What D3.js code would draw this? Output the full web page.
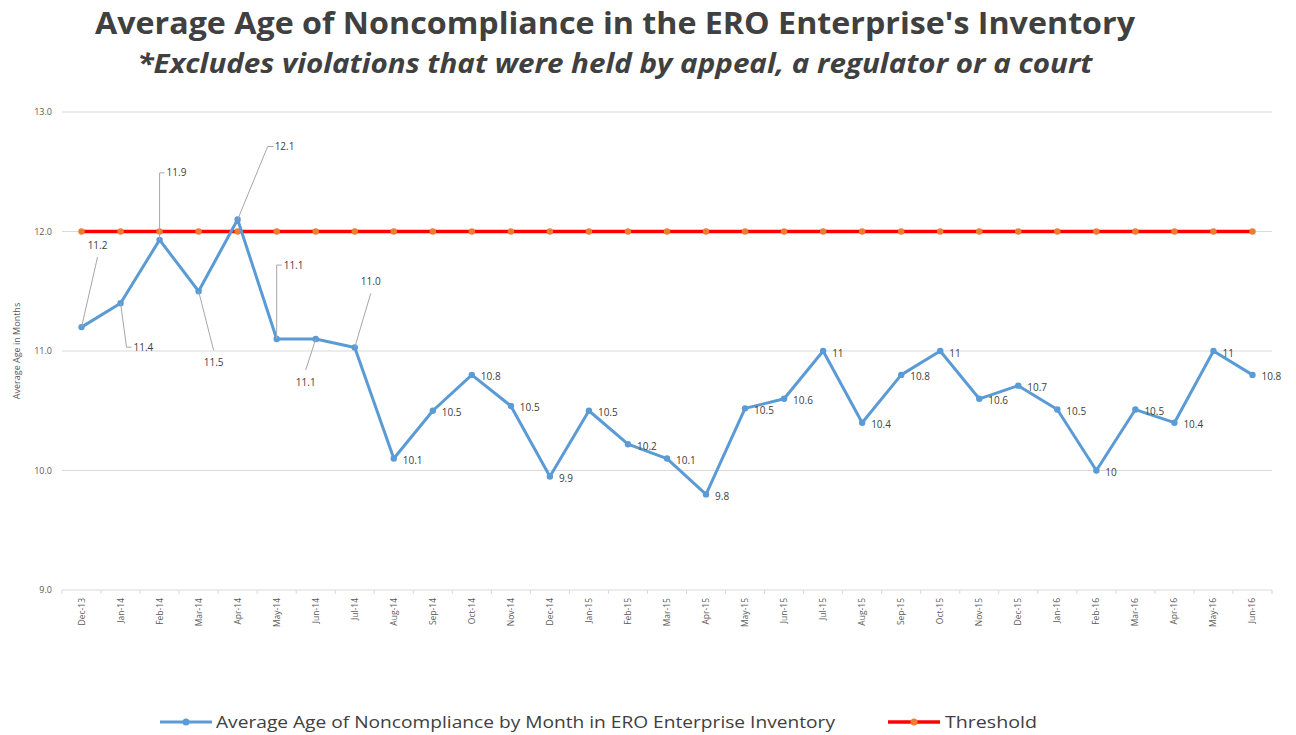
<!DOCTYPE html>
<meta charset="utf-8">
<title>Average Age of Noncompliance</title>
<style>
body { margin:0; background:#fff; }
svg text { font-family: "Open Sans", "DejaVu Sans", sans-serif; fill:#404040; }
.grid line { stroke:#d9d9d9; stroke-width:1px; }
.tick-lbl { font-size:9px; fill:#595959; }
.val { font-size:10px; fill:#404040; }
</style>
<svg width="1296" height="735"></svg>
<script src="https://d3js.org/d3.v7.min.js"></script>
<script>

var months = ["Dec-13","Jan-14","Feb-14","Mar-14","Apr-14","May-14","Jun-14","Jul-14","Aug-14","Sep-14","Oct-14","Nov-14",
              "Dec-14","Jan-15","Feb-15","Mar-15","Apr-15","May-15","Jun-15","Jul-15","Aug-15","Sep-15","Oct-15","Nov-15",
              "Dec-15","Jan-16","Feb-16","Mar-16","Apr-16","May-16","Jun-16"];
var avgAge = [11.2,11.4,11.93,11.5,12.1,11.1,11.1,11.03,10.1,10.5,10.8,10.54,
              9.95,10.5,10.22,10.1,9.8,10.52,10.6,11.0,10.4,10.8,11.0,10.6,
              10.71,10.51,10.0,10.51,10.4,11.0,10.8];
var avgLabels = ["11.2","11.4","11.9","11.5","12.1","11.1","11.1","11.0","10.1","10.5","10.8","10.5",
                 "9.9","10.5","10.2","10.1","9.8","10.5","10.6","11","10.4","10.8","11","10.6",
                 "10.7","10.5","10","10.5","10.4","11","10.8"];
var threshold = months.map(function(){ return 12; });
var yTicks = [9,10,11,12,13];

// callout offsets for the first labels (leader lines), in px from the point
var callouts = [
  {dx:16, dy:-82, kind:"diag"},
  {dx:6,  dy:44,  kind:"elbow"},
  {dx:0,  dy:-67, kind:"elbow"},
  {dx:15, dy:71,  kind:"diag"},
  {dx:30, dy:-73, kind:"diagElbow"},
  {dx:0,  dy:-74, kind:"elbow"},
  {dx:-10, dy:43, kind:"diag"},
  {dx:16, dy:-66, kind:"diag"}
];

var svg = d3.select("svg");
var x = d3.scalePoint().domain(months).range([62, 1272]).padding(0.5);
var y = d3.scaleLinear().domain([9, 13]).range([590, 112]);

// title
svg.append("text").attr("x", 615).attr("y", 34)
  .attr("text-anchor","middle").style("font-size","30px").style("font-weight","bold")
  .attr("textLength", 1040).attr("lengthAdjust","spacingAndGlyphs")
  .text("Average Age of Noncompliance in the ERO Enterprise's Inventory");
svg.append("text").attr("x", 615).attr("y", 73)
  .attr("text-anchor","middle").style("font-size","26px").style("font-weight","bold").style("font-style","italic")
  .attr("textLength", 955).attr("lengthAdjust","spacingAndGlyphs")
  .text("*Excludes violations that were held by appeal, a regulator or a court");

// grid
svg.append("g").attr("class","grid").selectAll("line")
  .data(yTicks).enter().append("line")
  .attr("x1", 62).attr("x2", 1272)
  .attr("y1", function(d){ return y(d); }).attr("y2", function(d){ return y(d); });

svg.append("g").selectAll("text")
  .data(yTicks).enter().append("text")
  .attr("class","tick-lbl")
  .attr("x", 52).attr("y", function(d){ return y(d); }).attr("dy","0.35em")
  .attr("text-anchor","end")
  .text(function(d){ return d3.format(".1f")(d); });

svg.append("text").attr("class","tick-lbl")
  .attr("transform","translate(20," + y(11) + ") rotate(-90)")
  .attr("text-anchor","middle")
  .text("Average Age in Months");

// x axis ticks between categories
var step = x.step();
svg.append("g").selectAll("line")
  .data(d3.range(months.length + 1)).enter().append("line")
  .attr("x1", function(i){ return 62 + i * step; }).attr("x2", function(i){ return 62 + i * step; })
  .attr("y1", 590).attr("y2", 594)
  .style("stroke","#d9d9d9");

svg.append("g").selectAll("text")
  .data(months).enter().append("text")
  .attr("class","tick-lbl")
  .attr("transform", function(d){ return "translate(" + (x(d) + 3) + ",598) rotate(-90)"; })
  .attr("text-anchor","end")
  .style("font-size","8.5px")
  .text(function(d){ return d; });

// threshold
var line = d3.line().x(function(d, i){ return x(months[i]); }).y(function(d){ return y(d); });
svg.append("path").datum(threshold).attr("d", line)
  .style("fill","none").style("stroke","#ff0000").style("stroke-width", 3.5);
svg.append("g").selectAll("circle")
  .data(threshold).enter().append("circle")
  .attr("cx", function(d, i){ return x(months[i]); }).attr("cy", function(d){ return y(d); })
  .attr("r", 3.2).style("fill","#ed7d31");

// average age series
svg.append("path").datum(avgAge).attr("d", line)
  .style("fill","none").style("stroke","#5b9bd5").style("stroke-width", 3).style("stroke-linejoin","round");
svg.append("g").selectAll("circle")
  .data(avgAge).enter().append("circle")
  .attr("cx", function(d, i){ return x(months[i]); }).attr("cy", function(d){ return y(d); })
  .attr("r", 3.2).style("fill","#5b9bd5");

// labels
var lbl = svg.append("g");
avgAge.forEach(function(v, i){
  var px = x(months[i]), py = y(v), c = callouts[i];
  if (c) {
    var tx = px + c.dx, ty = py + c.dy;
    var pts;
    if (c.kind === "elbow") pts = [[px, py], [tx, ty], [tx + 5, ty]];
    else if (c.kind === "diagElbow") pts = [[px, py], [tx, ty], [tx + 6, ty]];
    else pts = [[px, py], [tx, ty + (c.dy < 0 ? 12 : -12)]];
    lbl.append("path").attr("d", d3.line()(pts))
      .style("fill","none").style("stroke","#a6a6a6").style("stroke-width", 1);
    var anchorStart = c.kind === "elbow" || c.kind === "diagElbow";
    lbl.append("text").attr("class","val")
      .attr("x", anchorStart ? tx + 7 : tx).attr("y", ty).attr("dy","0.35em")
      .attr("text-anchor", anchorStart ? "start" : "middle")
      .text(avgLabels[i]);
  } else {
    lbl.append("text").attr("class","val")
      .attr("x", px + 9).attr("y", py + 2).attr("dy","0.35em")
      .text(avgLabels[i]);
  }
});

// legend
var lg = svg.append("g").attr("transform","translate(0,722)");
lg.append("line").attr("x1",160).attr("x2",212).style("stroke","#5b9bd5").style("stroke-width",3);
lg.append("circle").attr("cx",186).attr("r",3.5).style("fill","#5b9bd5");
lg.append("text").attr("x",216).attr("dy","0.35em").style("font-size","17px")
  .attr("textLength", 619).attr("lengthAdjust","spacingAndGlyphs")
  .text("Average Age of Noncompliance by Month in ERO Enterprise Inventory");
lg.append("line").attr("x1",888).attr("x2",940).style("stroke","#ff0000").style("stroke-width",3.5);
lg.append("circle").attr("cx",914).attr("r",3.5).style("fill","#ed7d31");
lg.append("text").attr("x",945).attr("dy","0.35em").style("font-size","17px")
  .attr("textLength", 92).attr("lengthAdjust","spacingAndGlyphs")
  .text("Threshold");

</script>
